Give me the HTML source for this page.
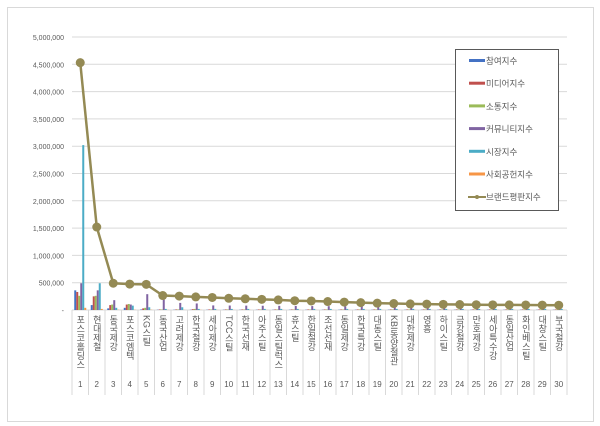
<!DOCTYPE html>
<html><head><meta charset="utf-8">
<style>
body{margin:0;background:#fff;width:600px;height:426px;overflow:hidden;font-family:"Liberation Sans","Noto Sans CJK KR",sans-serif;}
#frame{position:absolute;left:7px;top:7px;width:585px;height:413px;border:1px solid #d9d9d9;}
.lab{position:absolute;top:315px;writing-mode:vertical-rl;text-orientation:mixed;font-size:9px;line-height:10px;color:#595959;font-family:"Liberation Sans","Noto Sans CJK KR",sans-serif;}
</style></head><body>
<div id="frame"></div>
<svg id="s" width="600" height="426" style="position:absolute;left:0;top:0"></svg>
<div id="labs"></div>
<script>
const X0=72,W=16.5,Y0=310,K=273/5000000;
const y=v=>Y0-v*K;
let h='';
for(let i=0;i<=10;i++){const yy=Y0-i*27.3;h+=`<line x1="${X0}" x2="567" y1="${yy}" y2="${yy}" stroke="#d9d9d9" stroke-width="1"/>`;
h+=`<text x="64" y="${yy+3}" font-size="7" fill="#595959" text-anchor="end" font-family="Liberation Sans">${i?(i*500000).toLocaleString('en-US'):'-'}</text>`;}
for(let i=0;i<=30;i++){const xx=X0+i*W;h+=`<line x1="${xx}" x2="${xx}" y1="310" y2="395" stroke="#d9d9d9"/>`;}
const names=["포스코홀딩스","현대제철","동국제강","포스코엠텍","KG스틸","동국산업","고려제강","한국철강","세아제강","TCC스틸","한국선재","아주스틸","동일스틸럭스","휴스틸","한일철강","조선선재","동일제강","한국특강","대동스틸","KBI동양철관","대한제강","영흥","하이스틸","금강철강","만호제강","세아특수강","동일산업","화인베스틸","대창스틸","부국철강"];
const line=[4530000,1520000,490000,475000,470000,265000,255000,240000,230000,215000,205000,195000,185000,170000,165000,155000,145000,135000,125000,118000,112000,108000,104000,100000,97000,95000,93000,92000,90000,88000];
const cols=["#4472c4","#c0504d","#9bbb59","#8064a2","#4bacc6","#f79646"];
const bars=[[360000,330000,260000,490000,3020000,40000],[90000,250000,260000,360000,490000,20000],[30000,90000,100000,180000,40000,5000],[40000,100000,110000,100000,80000,5000],[10000,30000,40000,290000,50000,5000],[5000,10000,10000,190000,20000,3000],[5000,10000,10000,130000,50000,3000],[5000,15000,20000,120000,20000,3000]];
for(let i=0;i<30;i++){const b=bars[i]||[5000,10000,10000,100000-i*2000,20000,2000];
 const cx=X0+i*W+W/2;
 b.forEach((v,j)=>{const bx=cx-6+j*2;h+=`<rect x="${bx}" y="${y(v)}" width="2" height="${v*K}" fill="${cols[j]}"/>`;});}
let pts=line.map((v,i)=>`${X0+i*W+W/2},${y(v)}`).join(' ');
h+=`<polyline points="${pts}" fill="none" stroke="#948a54" stroke-width="2.5"/>`;
line.forEach((v,i)=>{h+=`<circle cx="${X0+i*W+W/2}" cy="${y(v)}" r="4.5" fill="#948a54"/>`;
 h+=`<text x="${X0+i*W+W/2}" y="387" font-size="8" fill="#595959" text-anchor="middle" font-family="Liberation Sans">${i+1}</text>`;});
h+=`<rect x="455.5" y="49.5" width="103" height="161" fill="#fff" stroke="#595959"/>`;
const ln=["참여지수","미디어지수","소통지수","커뮤니티지수","시장지수","사회공헌지수"];
ln.forEach((t,j)=>{const ly=61+j*22.7;h+=`<rect x="469" y="${ly-2}" width="16" height="3" fill="${cols[j]}"/><text x="486" y="${ly+3}" font-size="8.5" fill="#595959" font-family="Liberation Sans,Noto Sans CJK KR">${t}</text>`;});
h+=`<line x1="468" x2="486" y1="197" y2="197" stroke="#948a54" stroke-width="2"/><circle cx="477" cy="197" r="2" fill="#948a54"/><text x="486" y="200" font-size="8.5" fill="#595959" font-family="Liberation Sans,Noto Sans CJK KR">브랜드평판지수</text>`;
document.getElementById('s').innerHTML=h;
let L='';names.forEach((n,i)=>{L+=`<div class="lab" style="left:${X0+i*W+W/2-5}px">${n}</div>`;});
document.getElementById('labs').innerHTML=L;
</script>
</body></html>
